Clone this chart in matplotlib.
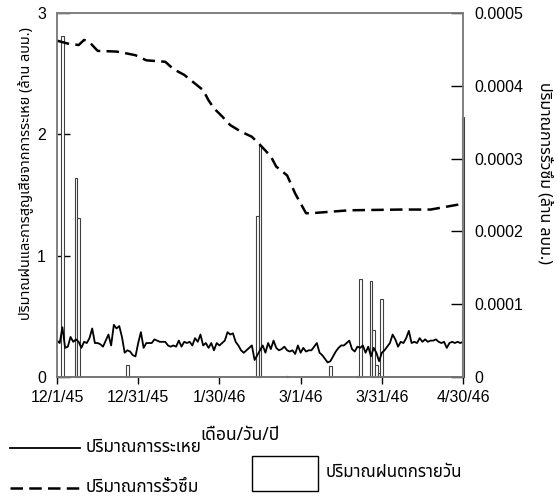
import numpy as np
import matplotlib
matplotlib.use("Agg")
import matplotlib.pyplot as plt
from matplotlib.lines import Line2D
from matplotlib.patches import Rectangle

# day index 0 = 12/1/45, 150 = 4/30/46
tick_days = [0, 30, 60, 90, 120, 150]
tick_labels = ["12/1/45", "12/31/45", "1/30/46", "3/1/46", "3/31/46", "4/30/46"]

# daily evaporation (million m3), left axis
evap = [0.30, 0.28, 0.41, 0.24, 0.25, 0.33, 0.29, 0.31, 0.29, 0.24,
        0.29, 0.28, 0.32, 0.40, 0.28, 0.28, 0.27, 0.25, 0.30, 0.35,
        0.26, 0.43, 0.40, 0.42, 0.33, 0.20, 0.22, 0.21, 0.18, 0.17,
        0.28, 0.37, 0.24, 0.28, 0.28, 0.28, 0.31, 0.30, 0.29, 0.29,
        0.29, 0.26, 0.25, 0.26, 0.25, 0.30, 0.25, 0.29, 0.28, 0.29,
        0.26, 0.32, 0.29, 0.35, 0.26, 0.28, 0.24, 0.28, 0.22, 0.28,
        0.26, 0.28, 0.30, 0.37, 0.35, 0.36, 0.29, 0.26, 0.22, 0.20,
        0.22, 0.24, 0.26, 0.14, 0.18, 0.22, 0.26, 0.20, 0.28, 0.23,
        0.30, 0.24, 0.22, 0.23, 0.25, 0.22, 0.21, 0.22, 0.19, 0.26,
        0.20, 0.24, 0.21, 0.22, 0.22, 0.25, 0.28, 0.20, 0.18, 0.15,
        0.12, 0.13, 0.17, 0.21, 0.24, 0.26, 0.26, 0.28, 0.30, 0.23,
        0.21, 0.25, 0.24, 0.26, 0.20, 0.25, 0.17, 0.24, 0.20, 0.13,
        0.20, 0.22, 0.25, 0.28, 0.35, 0.31, 0.25, 0.29, 0.28, 0.32,
        0.38, 0.28, 0.29, 0.28, 0.32, 0.29, 0.31, 0.29, 0.30, 0.30,
        0.31, 0.29, 0.28, 0.29, 0.24, 0.28, 0.29, 0.28, 0.29, 0.28,
        0.29]

# daily rainfall (million m3), left axis
rain_days = [2, 7, 8, 26, 74, 75, 85, 101, 111, 112, 116, 117, 118, 119, 120, 150]
rain_vals = [2.81, 1.64, 1.31, 0.10, 1.33, 1.91, 0.01, 0.09, 0.01, 0.81,
             0.79, 0.39, 0.10, 0.03, 0.64, 2.14]

# seepage (million m3), right axis
seep_days = [0, 4, 8, 10, 12, 15, 22, 25, 29, 33, 40, 43, 47, 50, 54, 56,
             58, 61, 64, 68, 72, 75, 79, 81, 85, 88, 92, 94, 108, 127, 138, 150]
seep_vals = [0.000462, 0.000458, 0.000456, 0.000463, 0.000460, 0.000448,
             0.000447, 0.000445, 0.000442, 0.000435, 0.000433, 0.000423,
             0.000415, 0.000406, 0.000394, 0.000380, 0.000369, 0.000358,
             0.000346, 0.000337, 0.000330, 0.000319, 0.000303, 0.000289,
             0.000277, 0.000252, 0.000225, 0.000225, 0.000229, 0.000230,
             0.000230, 0.000238]

thai = ["Noto Sans Thai", "Noto Serif Thai", "Loma", "Garuda", "Norasi",
        "Tlwg Typo", "Waree", "Kinnari", "DejaVu Sans"]
num_font = ["Liberation Sans", "DejaVu Sans"]
dash = (0, (5, 2.5))

fig = plt.figure(figsize=(5.57, 4.97), dpi=100)
ax = fig.add_axes([57 / 557, 1 - 377 / 497, 406 / 557, 364 / 497])
ax2 = ax.twinx()

ax.bar(rain_days, rain_vals, width=1.0, color="white", edgecolor="#404040",
       linewidth=0.8, clip_on=False, zorder=2)
ax.plot(np.arange(len(evap)), evap, color="black", lw=1.3, zorder=3)
ax2.plot(seep_days, seep_vals, color="black", lw=1.8, linestyle=dash)

ax.set_xlim(0, 150)
ax.set_ylim(0, 3)
ax2.set_ylim(0, 0.0005)
ax.set_xticks(tick_days)
ax.set_xticklabels(tick_labels, family=num_font, fontsize=11.5)
ax.set_yticks([0, 1, 2, 3])
ax.set_yticklabels(["0", "1", "2", "3"], family=num_font, fontsize=11.5)
ax2.set_yticks([0, 0.0001, 0.0002, 0.0003, 0.0004, 0.0005])
ax2.set_yticklabels(["0", "0.0001", "0.0002", "0.0003", "0.0004", "0.0005"],
                    family=num_font, fontsize=11.5)

ax.tick_params(axis="y", direction="in", length=9, width=1, pad=8)
ax2.tick_params(axis="y", direction="in", length=9, width=1, pad=8)
ax.tick_params(axis="x", direction="out", length=5, width=1, pad=4)
for a in (ax, ax2):
    for s in a.spines.values():
        s.set_color("#808080")
        s.set_linewidth(1.2)
ax.spines["bottom"].set_color("#303030")

fig.text(26 / 557, 1 - 174 / 497, "ปริมาณฝนและการสูญเสียจากการระเหย (ล้าน ลบม.)",
         rotation=90, ha="center", va="center", family=thai, fontsize=10.4,
         fontweight="bold")
fig.text(545 / 557, 1 - 173 / 497, "ปริมาณการรั่วซึม (ล้าน ลบม.)",
         rotation=-90, ha="center", va="center", family=thai, fontsize=11.5,
         fontweight="bold")
fig.text(240 / 557, 1 - 435 / 497, "เดือน/วัน/ปี", ha="center", va="center",
         family=thai, fontsize=12.6, fontweight="bold")

# legend drawn by hand to copy the original layout
fig.add_artist(Line2D([10 / 557, 80 / 557], [1 - 448 / 497] * 2,
                      color="black", lw=1.3))
fig.add_artist(Line2D([10 / 557, 80 / 557], [1 - 488 / 497] * 2,
                      color="black", lw=1.8, linestyle=dash))
fig.add_artist(Rectangle((252 / 557, 1 - 491 / 497), 66 / 557, 35 / 497,
                         transform=fig.transFigure, facecolor="white",
                         edgecolor="black", lw=1))
fig.text(86 / 557, 1 - 448 / 497, "ปริมาณการระเหย", ha="left", va="center",
         family=thai, fontsize=12.3, fontweight="bold")
fig.text(86 / 557, 1 - 488 / 497, "ปริมาณการรั่วซึม", ha="left", va="center",
         family=thai, fontsize=12.3, fontweight="bold")
fig.text(326 / 557, 1 - 473 / 497, "ปริมาณฝนตกรายวัน", ha="left", va="center",
         family=thai, fontsize=12.1, fontweight="bold")

fig.savefig("out.png", dpi=100)
